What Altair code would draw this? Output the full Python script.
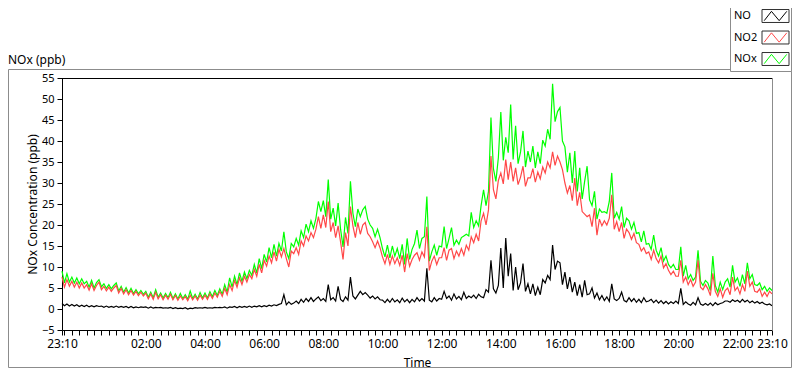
import json
import altair as alt
import pandas as pd

# ---------------- data ----------------
series_names = ["NO", "NO2", "NOx"]
series_colors = ["#000000", "#ff4848", "#00ff00"]
y_ticks = [-5, 0, 5, 10, 15, 20, 25, 30, 35, 40, 45, 50, 55]
x_tick_labels = ["23:10", "02:00", "04:00", "06:00", "08:00", "10:00", "12:00",
                 "14:00", "16:00", "18:00", "20:00", "22:00"]
start_time = "2021-06-01 23:10"
end_time = "2021-06-02 23:10"
sample_minutes = 5
graph_label = "NOx (ppb)"
x_title = "Time"
y_title = "NOx Concentration (ppb)"

# NO (ppb), 5-minute samples from 23:10 to 23:10
no_ppb = [
    1.3, 0.8, 1.2, 0.7, 1.1, 0.7, 1.0, 0.6, 0.9, 0.6,
    0.9, 0.5, 0.8, 0.5, 0.8, 0.6, 0.7, 0.4, 0.7, 0.4, 0.6, 0.4,
    0.7, 0.4, 0.6, 0.4, 0.6, 0.3, 0.6, 0.3, 0.5, 0.3, 0.5, 0.4,
    0.5, 0.2, 0.5, 0.2, 0.4, 0.3, 0.4, 0.2, 0.3, 0.2, 0.4, 0.1,
    0.3, 0.1, 0.2, 0.1, 0.3, 0.0, 0.2, 0.1, 0.3, 0.2, 0.3, 0.2,
    0.4, 0.2, 0.3, 0.2, 0.4, 0.3, 0.4, 0.3, 0.5, 0.2, 0.5, 0.4,
    0.6, 0.3, 0.6, 0.4, 0.6, 0.4, 0.7, 0.4, 0.7, 0.5, 0.8, 0.5,
    0.8, 0.6, 0.9, 0.7, 1.0, 0.8, 1.1, 1.3, 3.4, 1.0, 1.7, 1.1,
    1.4, 1.9, 1.3, 2.3, 1.6, 2.5, 1.8, 2.7, 1.8, 2.4, 2.9, 2.0,
    2.5, 1.8, 5.8, 2.2, 2.7, 1.9, 5.4, 2.3, 1.8, 2.9, 2.1, 7.6,
    3.1, 2.4, 3.3, 4.2, 3.4, 3.9, 3.3, 2.6, 3.1, 2.4, 2.9, 2.2,
    2.1, 1.5, 2.3, 1.6, 2.5, 1.7, 2.2, 1.5, 2.6, 1.7, 2.3, 1.5,
    2.3, 1.7, 2.7, 1.9, 2.5, 1.9, 9.7, 2.1, 1.7, 2.7, 1.9, 2.5,
    2.3, 4.2, 2.5, 3.1, 2.1, 3.6, 2.4, 3.0, 2.2, 4.0, 2.5, 3.1,
    2.7, 3.3, 2.5, 3.5, 2.9, 2.7, 4.6, 4.0, 11.6, 4.8, 3.8, 5.6,
    14.5, 5.0, 16.9, 7.8, 13.2, 4.4, 10.0, 4.6, 6.2, 10.8, 4.2, 6.0,
    3.6, 6.0, 3.2, 5.2, 3.4, 7.0, 6.2, 8.0, 7.0, 15.2, 9.4, 11.4,
    11.0, 5.8, 8.8, 4.8, 7.6, 4.0, 6.4, 3.2, 5.8, 2.8, 6.8, 3.4,
    3.6, 5.0, 2.6, 3.8, 2.2, 3.2, 2.0, 2.9, 1.8, 6.0, 2.4, 2.0,
    2.5, 4.0, 2.0, 1.7, 2.7, 1.8, 2.5, 1.6, 2.3, 1.5, 2.7, 1.7,
    1.9, 2.3, 1.5, 2.1, 1.4, 2.0, 1.3, 1.8, 1.2, 1.7, 1.3, 1.9,
    1.3, 4.9, 1.1, 1.7, 1.2, 0.9, 1.6, 1.0, 2.7, 1.2, 0.9, 1.3,
    0.9, 1.4, 0.8, 1.5, 1.0, 1.3, 1.5, 1.9, 1.9, 1.6, 2.2, 1.8,
    2.1, 1.6, 2.3, 1.7, 2.1, 1.5, 1.9, 1.4, 1.8, 1.3, 1.6, 1.2,
    1.0, 1.2, 0.8,
]

# NO2 (ppb)
no2_ppb = [
    7.6, 5.2, 7.0, 5.4, 6.6, 5.2, 6.4, 5.0, 6.2, 5.0,
    5.8, 4.5, 6.0, 4.4, 5.6, 6.4, 4.6, 5.4, 4.3, 5.2, 4.2, 5.0,
    5.6, 3.8, 4.9, 3.6, 4.6, 3.4, 4.4, 3.3, 4.2, 3.2, 4.0, 3.1,
    3.8, 2.4, 3.6, 2.3, 4.0, 2.4, 3.4, 2.2, 3.3, 2.3, 3.5, 2.2,
    3.2, 2.1, 3.1, 2.2, 3.0, 2.0, 3.3, 2.2, 3.1, 2.1, 3.3, 2.3,
    3.3, 2.3, 3.6, 2.5, 3.8, 2.8, 4.2, 3.0, 4.9, 3.4, 5.8, 4.4,
    6.8, 5.2, 7.4, 5.8, 7.8, 6.4, 8.2, 7.2, 9.4, 7.8, 10.6, 8.6,
    11.6, 10.2, 12.6, 11.0, 13.6, 11.4, 14.2, 12.4, 14.4, 12.0, 10.0, 13.8,
    13.2, 14.6, 13.0, 16.2, 15.0, 17.4, 16.2, 18.2, 17.0, 19.0, 22.0, 19.2,
    22.4, 19.4, 25.6, 18.4, 20.6, 17.0, 19.8, 16.0, 11.8, 18.2, 15.0, 24.4,
    19.8, 17.0, 20.6, 17.8, 20.0, 20.6, 18.0, 17.2, 16.0, 14.6, 16.2, 14.6,
    12.4, 10.8, 13.0, 10.6, 12.6, 10.8, 12.2, 10.4, 12.8, 8.8, 13.2, 10.2,
    11.8, 12.8, 13.4, 11.6, 13.6, 12.4, 19.6, 9.2, 11.4, 12.6, 10.6, 12.2,
    12.2, 14.6, 11.6, 14.0, 14.4, 12.0, 13.8, 12.6, 14.4, 12.8, 15.2, 14.0,
    17.2, 15.8, 17.8, 16.2, 21.0, 22.8, 20.0, 23.6, 36.4, 28.4, 26.2, 30.6,
    32.4, 29.8, 35.6, 30.8, 35.0, 30.4, 33.6, 29.6, 31.4, 34.0, 29.2, 31.2,
    31.2, 33.4, 30.2, 32.6, 31.0, 33.8, 32.4, 35.0, 33.6, 37.4, 34.2, 36.4,
    35.0, 33.2, 30.0, 27.6, 29.4, 25.8, 31.2, 24.6, 27.8, 23.2, 22.6, 22.0,
    22.4, 19.6, 24.0, 17.6, 21.4, 19.8, 21.0, 20.0, 21.6, 27.2, 19.0, 20.8,
    18.4, 20.6, 16.8, 19.0, 18.2, 16.6, 18.0, 15.8, 15.4, 13.8, 14.6, 13.2,
    13.6, 11.8, 14.0, 12.0, 11.0, 12.6, 9.8, 10.8, 9.2, 8.2, 9.0, 7.8,
    7.8, 11.6, 6.4, 7.6, 5.8, 7.0, 5.4, 6.4, 11.6, 5.2, 4.6, 5.8,
    4.8, 3.2, 8.5, 4.2, 3.0, 4.8, 2.8, 4.4, 5.0, 3.4, 7.6, 4.4,
    5.2, 3.6, 5.8, 4.2, 9.0, 5.4, 6.4, 4.2, 4.0, 4.8, 3.0, 4.0,
    3.0, 4.2, 3.6,
]

# NOx (ppb)
nox_ppb = [
    9.0, 6.2, 8.4, 6.4, 7.6, 6.2, 7.4, 6.0, 7.2, 6.0,
    6.6, 5.2, 6.8, 5.0, 6.3, 7.0, 5.3, 6.0, 4.9, 5.8, 4.8, 5.6,
    6.2, 4.3, 5.4, 4.0, 5.1, 3.8, 4.9, 3.7, 4.6, 3.6, 4.4, 3.5,
    4.2, 2.8, 4.0, 2.7, 4.6, 2.8, 3.8, 2.6, 3.7, 2.7, 4.0, 2.5,
    3.6, 2.4, 3.7, 2.5, 3.4, 2.3, 4.3, 2.5, 3.5, 2.4, 3.9, 2.6,
    3.8, 2.6, 4.1, 2.9, 4.4, 3.2, 4.8, 3.5, 5.8, 4.0, 7.4, 5.2,
    7.8, 5.8, 8.6, 6.6, 8.8, 7.2, 9.2, 8.0, 10.6, 8.6, 12.0, 9.6,
    13.0, 11.2, 14.6, 12.2, 15.4, 12.6, 15.6, 13.8, 18.4, 13.6, 12.0, 15.6,
    14.8, 16.8, 15.2, 18.6, 17.0, 20.2, 18.4, 21.0, 19.2, 21.6, 25.6, 23.2,
    25.8, 22.0, 30.8, 21.4, 24.0, 19.8, 25.2, 19.0, 14.8, 21.8, 18.0, 30.4,
    22.8, 19.6, 23.8, 22.0, 23.6, 24.4, 21.4, 20.0, 19.2, 17.2, 19.0, 17.0,
    14.4, 12.4, 15.2, 12.2, 15.0, 12.6, 14.4, 12.0, 15.4, 10.6, 16.8, 11.8,
    14.2, 15.6, 18.8, 14.4, 16.8, 17.2, 26.8, 11.4, 13.6, 15.2, 12.8, 15.0,
    14.8, 19.6, 14.4, 16.8, 19.4, 15.2, 16.4, 15.4, 17.0, 17.4, 17.8, 17.4,
    23.0, 19.4, 21.0, 19.8, 24.6, 28.4, 24.6, 28.0, 45.6, 33.4, 30.4, 36.0,
    46.9, 35.4, 40.9, 37.2, 48.7, 35.6, 43.6, 34.6, 37.4, 42.4, 33.8, 37.6,
    35.0, 38.8, 33.6, 37.4, 34.6, 40.2, 38.8, 42.8, 40.4, 53.6, 44.6, 47.0,
    48.0, 40.0, 38.6, 32.6, 37.2, 30.0, 37.6, 28.0, 33.6, 26.2, 30.4, 34.0,
    26.0, 24.6, 28.0, 21.4, 23.8, 23.0, 23.2, 22.8, 25.6, 32.4, 21.6, 23.0,
    21.4, 24.4, 19.4, 21.6, 21.0, 19.0, 20.6, 18.0, 18.2, 16.0, 18.6, 15.4,
    15.6, 14.2, 17.6, 14.0, 12.6, 14.6, 11.4, 12.6, 10.6, 9.8, 10.6, 9.4,
    9.4, 14.8, 7.8, 10.4, 7.2, 8.2, 6.8, 7.6, 14.0, 6.6, 5.6, 6.8,
    6.2, 4.4, 12.6, 5.6, 4.0, 6.4, 4.6, 6.4, 7.2, 5.2, 10.4, 6.4,
    7.4, 5.4, 8.2, 6.0, 11.0, 7.2, 8.2, 5.8, 5.6, 6.2, 4.6, 5.4,
    4.2, 5.0, 4.4,
]

assert len(no_ppb) == len(no2_ppb) == len(nox_ppb) == 289, (len(no_ppb), len(no2_ppb), len(nox_ppb))

# ---------------- tables ----------------
times = pd.date_range(start_time, periods=len(no_ppb), freq=f"{sample_minutes}min")
series_values = {"NO": no_ppb, "NO2": no2_ppb, "NOx": nox_ppb}
frames = {name: pd.DataFrame({"time": times, "value": series_values[name], "series": name})
          for name in series_names}

t0 = pd.Timestamp(start_time)
t1 = pd.Timestamp(end_time)


def dt(ts):
    return alt.DateTime(year=ts.year, month=ts.month, date=ts.day,
                        hours=ts.hour, minutes=ts.minute)


tick_times = [t0] + list(pd.date_range(t0 + pd.Timedelta(minutes=5),
                                       t1 - pd.Timedelta(minutes=10), freq="15min")) + [t1]

FONT = "Noto Sans"
label_expr = ("indexof(" + json.dumps(x_tick_labels) + ", timeFormat(datum.value, '%H:%M')) >= 0"
              " ? timeFormat(datum.value, '%H:%M') : ''")

x_scale = alt.Scale(domain=[dt(t0), dt(t1)], nice=False)
y_scale = alt.Scale(domain=[y_ticks[0], y_ticks[-1]], nice=False, zero=False)

x_axis = alt.Axis(values=[dt(t) for t in tick_times], labelExpr=label_expr,
                  labelOverlap=False, labelFlush=False, labelBound=False,
                  tickSize=5, tickColor="#000000", domainColor="#000000",
                  labelPadding=3, labelFontSize=12, grid=False,
                  title=x_title, titleX=355, titleY=32, titleBaseline="middle",
                  titleFontSize=12, titleFontWeight="normal")
y_axis = alt.Axis(values=y_ticks, tickSize=5, tickColor="#000000", domainColor="#000000",
                  labelPadding=3, labelFontSize=11, grid=False,
                  title=y_title, titleX=-30, titleY=126, titleAngle=270,
                  titleBaseline="middle", titleFontSize=12, titleFontWeight="normal")

color_enc = alt.Color("series:N", scale=alt.Scale(domain=series_names, range=series_colors),
                      legend=None)


def line_layer(name):
    return alt.Chart(frames[name]).mark_line(strokeWidth=1.2, interpolate="linear").encode(
        x=alt.X("time:T", scale=x_scale, axis=x_axis),
        y=alt.Y("value:Q", scale=y_scale, axis=y_axis),
        color=color_enc,
    )


one = pd.DataFrame({"k": [0]})

panel = alt.Chart(one).mark_rect(fillOpacity=0, stroke="#8c8c8c", strokeWidth=1).encode(
    x=alt.value(-53.5), x2=alt.value(729.5), y=alt.value(-8.5), y2=alt.value(289.5))

top_rule = alt.Chart(one).mark_rule(color="#000000", strokeWidth=1).encode(
    x=alt.value(0), x2=alt.value(710.5), y=alt.value(0.5))
right_rule = alt.Chart(one).mark_rule(color="#8c8c8c", strokeWidth=1).encode(
    x=alt.value(710.5), y=alt.value(0), y2=alt.value(252.5))

label_df = pd.DataFrame({"txt": [graph_label]})
graph_label_text = alt.Chart(label_df).mark_text(
    align="left", baseline="middle", fontSize=12, font=FONT, color="#000000").encode(
    x=alt.value(-54), y=alt.value(-18), text="txt:N")

legend_df = pd.DataFrame({"series": series_names, "row": list(range(len(series_names)))})
leg_bg = alt.Chart(one).mark_rect(fill="white", stroke="#8c8c8c", strokeWidth=1).encode(
    x=alt.value(668.5), x2=alt.value(729.5), y=alt.value(-80), y2=alt.value(-6.5))
leg = alt.Chart(legend_df).transform_calculate(ly="-62 + 21.5 * datum.row")
ly_enc = alt.Y("ly:Q", scale=None, axis=None)
leg_box = leg.mark_point(shape="M-1,-0.48H1V0.48H-1Z", size=729, filled=True,
                         fill="white", stroke="#303030", strokeWidth=1, opacity=1).encode(
    x=alt.value(713.5), y=ly_enc)
leg_glyph = leg.mark_point(shape="M-0.92,0.38L-0.33,-0.38L0.3,0.38L0.92,-0.38",
                           size=600, filled=False, strokeWidth=1, opacity=1).encode(
    x=alt.value(713.5), y=ly_enc, color=color_enc)
leg_text = leg.mark_text(align="left", baseline="middle", fontSize=11, font=FONT,
                         color="#000000").encode(
    x=alt.value(672), y=ly_enc, text="series:N")

chart = alt.layer(
    panel,
    line_layer("NOx"),
    line_layer("NO2"),
    line_layer("NO"),
    top_rule,
    right_rule,
    graph_label_text,
    leg_bg,
    leg_box,
    leg_glyph,
    leg_text,
).properties(
    width=710,
    height=252,
    padding={"left": 54, "top": 70, "right": 20, "bottom": 39},
    autosize=alt.AutoSizeParams(type="none"),
    background="white",
).configure_view(
    strokeWidth=0
).configure_axis(
    labelFont=FONT, titleFont=FONT, labelColor="#000000", titleColor="#000000"
)

chart.save("out.html", embed_options={"renderer": "svg", "actions": False})
